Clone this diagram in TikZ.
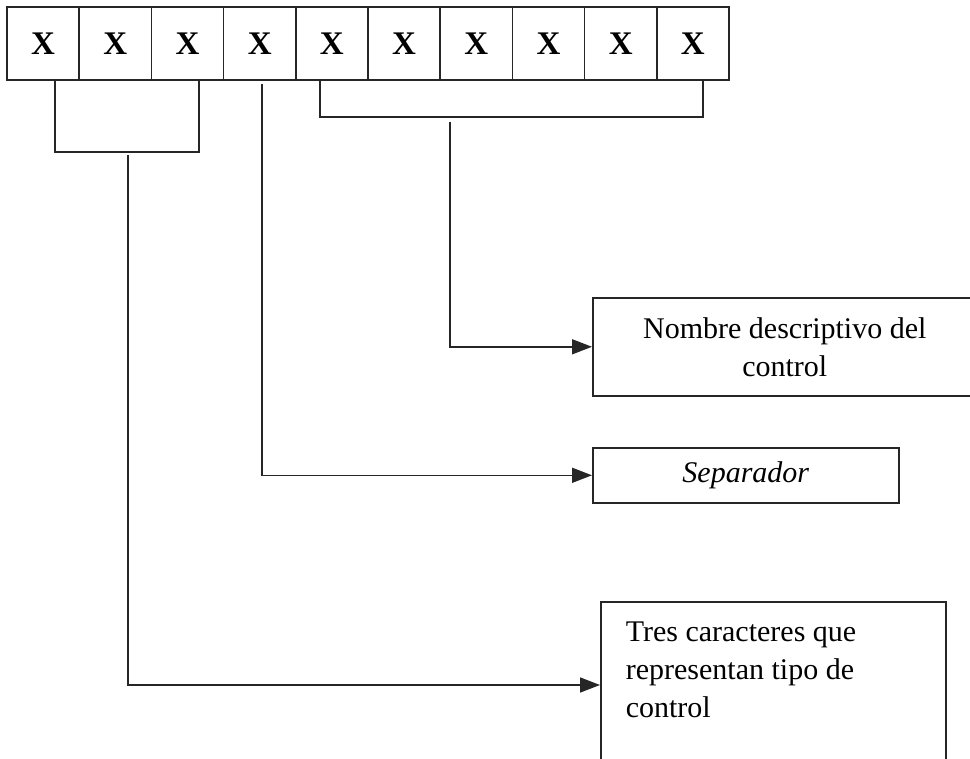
\documentclass[tikz,border=0pt]{standalone}
\usepackage{fontspec}
\setmainfont{Liberation Serif}
\usetikzlibrary{arrows.meta,calc}
\begin{document}
\begin{tikzpicture}[x=1pt,y=-1pt,
  ln/.style={line width=1.6pt,draw=black!85},
  cell/.style={ln,draw,minimum width=72.2pt,minimum height=73pt,inner sep=0pt,
    font=\fontsize{33}{33}\selectfont\bfseries},
  lbox/.style={ln,draw,inner sep=0pt,font=\fontsize{30}{38}\selectfont},
  arr/.style={ln,-{Triangle[length=20pt,width=15pt]}}]
\useasboundingbox (0,0) rectangle (970,759);
\clip (0,0) rectangle (970,759);
\foreach \i in {1,...,10}{
  \node[cell] (c\i) at ({7+72.2*(\i-0.5)},43.5) {X};
}
% label boxes
\node[lbox,anchor=north west,minimum width=384pt,minimum height=98pt,align=center]
  (box1) at (592,297) {Nombre descriptivo del\\control};
\node[lbox,anchor=north west,minimum width=306pt,minimum height=55pt,font=\fontsize{30}{38}\selectfont\itshape]
  (box2) at (592,447) {Separador};
\node[lbox,anchor=north west,minimum width=345pt,align=flush left,text width=295pt,
  text height=22pt,text depth=140pt,inner xsep=25pt,inner ysep=18pt]
  (box3) at (600,601) {Tres caracteres que\\representan tipo de\\control};
% bracket over first three cells
\coordinate (b1a) at (55,80);
\coordinate (b1b) at (199,80);
\coordinate (b1m) at (128,155);
\draw[ln] (b1a) -- (55,152) -- (199,152) -- (b1b);
% bracket over last six cells
\coordinate (b3a) at (320,80);
\coordinate (b3b) at (703,80);
\coordinate (b3m) at (450,122);
\draw[ln] (b3a) -- (320,117) -- (703,117) -- (b3b);
% connectors
\coordinate (sep) at (262,84);
\draw[arr] (b3m) |- (box1.west);
\draw[arr] (sep) |- (box2.west);
\draw[arr] (b1m) |- ($(box3.north west)+(0,84)$);
\end{tikzpicture}
\end{document}
